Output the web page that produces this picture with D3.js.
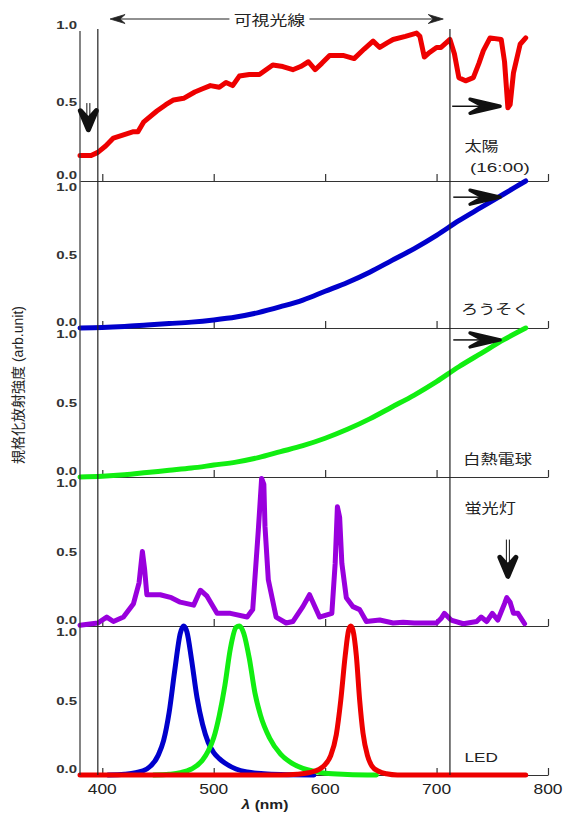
<!DOCTYPE html>
<html>
<head>
<meta charset="utf-8">
<script src="https://cdn.jsdelivr.net/npm/d3@7"></script>
<style>
	body { margin: 0; background: #fff; }
	svg { display: block; }
	text { font-family: 'Liberation Sans', 'Noto Sans CJK JP', sans-serif; fill: #222; }
	.jp { font-family: 'Noto Sans CJK JP', sans-serif; }
</style>
</head>
<body>
<svg id="chart" width="563" height="814"></svg>
<script>
'use strict';

// [wavelength nm, normalised intensity]
const sun = [[380,0.16],[390,0.16],[396,0.18],[403,0.22],[410,0.27],[419,0.29],[428,0.31],[432,0.31],[437,0.37],
	[449,0.44],[457,0.48],[464,0.51],[473,0.52],[483,0.56],[490,0.58],[497,0.60],[505,0.59],[511,0.62],[517,0.60],
	[523,0.66],[532,0.67],[541,0.67],[553,0.73],[562,0.72],[571,0.70],[578,0.72],[585,0.75],[591,0.70],[597,0.74],
	[604,0.79],[616,0.79],[626,0.77],[635,0.83],[643,0.88],[649,0.84],[656,0.87],[661,0.89],[672,0.91],[682,0.93],
	[685,0.91],[689,0.78],[694,0.81],[700,0.84],[704,0.84],[712,0.89],[716,0.80],[720,0.65],[726,0.63],[733,0.65],
	[738,0.74],[742,0.82],[748,0.90],[758,0.89],[761,0.75],[764,0.46],[766,0.48],[769,0.68],[775,0.86],[780,0.90]];
const candle = [[380,0],[400,0.003],[420,0.01],[440,0.02],[460,0.03],[480,0.04],[500,0.055],[520,0.075],[540,0.105],
	[560,0.145],[580,0.19],[600,0.25],[620,0.31],[640,0.38],[660,0.46],[680,0.54],[700,0.63],[720,0.73],[740,0.82],
	[760,0.91],[780,1.0]];
const bulb = [[380,0],[400,0.005],[420,0.015],[440,0.03],[460,0.045],[480,0.06],[500,0.08],[520,0.10],[540,0.13],
	[560,0.17],[580,0.21],[600,0.26],[620,0.32],[640,0.39],[660,0.47],[680,0.55],[700,0.64],[720,0.74],[740,0.83],
	[760,0.92],[780,1.0]];
const fluorescent = [[380,0.005],[396,0.02],[404,0.06],[410,0.03],[419,0.06],[428,0.15],[433,0.29],[436,0.50],[438,0.38],
	[440,0.21],[452,0.21],[462,0.19],[470,0.16],[482,0.14],[488,0.24],[494,0.20],[503,0.085],[515,0.085],[530,0.06],
	[535,0.11],[540,0.64],[543,0.99],[545,0.95],[546,0.67],[549,0.31],[556,0.06],[565,0.02],[571,0.03],[580,0.13],
	[586,0.21],[595,0.06],[606,0.085],[609,0.42],[611,0.80],[613,0.73],[615,0.42],[619,0.19],[625,0.13],[631,0.11],
	[637,0.03],[649,0.04],[661,0.02],[670,0.025],[680,0.02],[700,0.02],[704,0.05],[707,0.085],[713,0.04],[724,0.015],
	[736,0.03],[740,0.06],[745,0.03],[750,0.085],[755,0.04],[761,0.15],[763,0.19],[766,0.16],[769,0.085],[773,0.085],
	[779,0.015]];
const ledBlue = [[405,0],[420,0.005],[430,0.015],[440,0.04],[450,0.13],[455,0.23],[460,0.42],[465,0.7],[470,0.95],
	[473,1.0],[476,0.96],[480,0.78],[485,0.52],[490,0.34],[495,0.22],[500,0.15],[505,0.11],[510,0.08],[520,0.04],
	[530,0.02],[545,0.008],[560,0.003],[590,0]];
const ledGreen = [[446,0],[460,0.005],[470,0.015],[480,0.04],[490,0.1],[495,0.16],[500,0.25],[505,0.4],[510,0.6],
	[515,0.85],[520,0.99],[523,1.0],[527,0.95],[532,0.78],[537,0.55],[542,0.4],[550,0.25],[560,0.14],[570,0.08],
	[580,0.045],[590,0.025],[600,0.012],[620,0.004],[646,0]];
const ledRed = [[380,0],[560,0],[575,0.005],[585,0.015],[595,0.04],[600,0.07],[605,0.13],[610,0.27],[614,0.5],
	[618,0.8],[621,0.97],[623,1.0],[625,0.97],[628,0.8],[631,0.5],[634,0.28],[638,0.13],[642,0.06],[648,0.025],
	[655,0.008],[665,0],[780,0]];

const xTicks = [400, 500, 600, 700, 800];
const yTicks = [0, 0.5, 1];
const visibleEdges = [396, 712];
const visibleRange = [407, 706];
const panelLabels = [
	[['太陽', 725, 0.23], ['(16:00)', 730, 0.09]],
	[['ろうそく', 722, 0.14]],
	[['白熱電球', 724, 0.13]],
	[['蛍光灯', 725, 0.80]],
	[['LED', 725, 0.12]]
];
const rightArrows = [[0, 714, 757, 0.47], [1, 715, 757, 0.89], [2, 715, 757, 0.92]];
const downArrows = [[0, 387.5, 0.49, 0.31], [3, 764, 0.58, 0.32]];

const panels = [
	{ top: 22, bottom: 181, series: [[sun, '#ee0000']], smooth: false },
	{ top: 181, bottom: 328, series: [[candle, '#0000cc']], smooth: true },
	{ top: 328, bottom: 477, series: [[bulb, '#11ee11']], smooth: true },
	{ top: 477, bottom: 626, series: [[fluorescent, '#9900dd']], smooth: false },
	{ top: 626, bottom: 775, series: [[ledBlue, '#0000cc'], [ledGreen, '#11ee11'], [ledRed, '#ee0000']], smooth: true }
];

const svg = d3.select('#chart'),
	x = d3.scaleLinear().domain([380, 800]).range([80, 548]),
	ink = '#222';

const label = (sel, px, py, str, size, sx, anchor) => sel.append('text')
	.attr('transform', `translate(${px},${py}) scale(${sx},1)`)
	.attr('font-size', size)
	.attr('text-anchor', anchor || 'start')
	.attr('dominant-baseline', 'central')
	.text(str);

panels.forEach((p, i) => {
	p.y = d3.scaleLinear().domain([0, 1]).range([p.bottom, p.top]);
	let g = svg.append('g');

	g.append('g')
		.attr('transform', `translate(0,${p.bottom})`)
		.call(d3.axisBottom(x).tickValues(xTicks).tickSize(-7).tickSizeOuter(0).tickFormat(''))
		.call(a => a.selectAll('path,line').attr('stroke', '#333').attr('stroke-width', 1.2));

	yTicks.forEach(v => {
		let off = v === 1 ? (i === 0 ? 3 : 6) : v === 0 ? -6 : 1;
		label(g, 77, p.y(v) + off, d3.format('.1f')(v), 10, 1.5, 'end')
			.attr('font-weight', 'bold').style('fill', '#333');
	});

	let line = d3.line()
		.x(d => x(d[0]))
		.y(d => p.y(d[1]))
		.curve(p.smooth ? d3.curveMonotoneX : d3.curveLinear);

	p.series.forEach(s => {
		g.append('path')
			.datum(s[0])
			.attr('d', line)
			.attr('fill', 'none')
			.attr('stroke', s[1])
			.attr('stroke-width', 5)
			.attr('stroke-linejoin', 'round')
			.attr('stroke-linecap', 'round');
	});

	panelLabels[i].forEach(l => {
		label(g, x(l[1]), p.y(l[2]), l[0], 13.5, l[0] === '(16:00)' ? 1.4 : 1.27)
			.classed('jp', /[^\x00-\x7f]/.test(l[0]));
	});
});

// x tick labels + axis title on the bottom panel only
xTicks.forEach(t => label(svg, x(t), 789, t, 14.5, 1.2, 'middle'));
svg.append('text')
	.attr('transform', 'translate(265,804) scale(1.2,1)')
	.attr('text-anchor', 'middle')
	.attr('dominant-baseline', 'central')
	.attr('font-size', 13)
	.attr('font-weight', 'bold')
	.call(t => t.append('tspan').attr('font-style', 'italic').text('λ'))
	.call(t => t.append('tspan').text(' (nm)'));

svg.append('text')
	.attr('transform', 'translate(18,385) rotate(-90)')
	.attr('text-anchor', 'middle')
	.attr('dominant-baseline', 'central')
	.attr('font-size', 14)
	.text('規格化放射強度 (arb.unit)');

// frame: left axis and visible-range edges
svg.append('line')
	.attr('x1', x(380)).attr('x2', x(380))
	.attr('y1', 31).attr('y2', panels[4].bottom)
	.attr('stroke', '#333').attr('stroke-width', 1.2);
svg.selectAll('.edge').data(visibleEdges).enter().append('line')
	.attr('class', 'edge')
	.attr('x1', d => x(d)).attr('x2', d => x(d))
	.attr('y1', 29).attr('y2', panels[4].bottom)
	.attr('stroke', ink).attr('stroke-width', 1.2);

// 可視光線 double arrow
let vy = 19, vx1 = x(visibleRange[0]), vx2 = x(visibleRange[1]);
svg.append('line').attr('x1', vx1 + 8).attr('x2', vx2 - 8).attr('y1', vy).attr('y2', vy)
	.attr('stroke', ink).attr('stroke-width', 1.2);
svg.append('path')
	.attr('d', `M${vx1},${vy}L${vx1 + 15},${vy - 4.5}L${vx1 + 10},${vy}L${vx1 + 15},${vy + 4.5}Z` +
		`M${vx2},${vy}L${vx2 - 15},${vy - 4.5}L${vx2 - 10},${vy}L${vx2 - 15},${vy + 4.5}Z`)
	.attr('fill', ink).attr('stroke', ink).attr('stroke-width', 0.8);
svg.append('rect').attr('x', x(550) - 40).attr('y', vy - 10).attr('width', 80).attr('height', 20).attr('fill', '#fff');
label(svg, x(550), vy, '可視光線', 14, 1.28, 'middle').classed('jp', true);

// black arrows pointing at features
rightArrows.forEach(a => {
	let py = panels[a[0]].y(a[3]), x1 = x(a[1]), x2 = x(a[2]);
	svg.append('line').attr('x1', x1).attr('x2', x2 - 20).attr('y1', py).attr('y2', py)
		.attr('stroke', '#111').attr('stroke-width', 1.5);
	svg.append('path')
		.attr('d', `M${x2},${py}L${x2 - 30},${py - 7}L${x2 - 17},${py}L${x2 - 30},${py + 7}Z`)
		.attr('fill', '#111').attr('stroke', '#111').attr('stroke-width', 3.5).attr('stroke-linejoin', 'round');
});
downArrows.forEach(a => {
	let p = panels[a[0]], px = x(a[1]), y1 = p.y(a[2]), y2 = p.y(a[3]);
	[-1.5, 1.5].forEach(dx => svg.append('line')
		.attr('x1', px + dx).attr('x2', px + dx).attr('y1', y1).attr('y2', y2 - 14)
		.attr('stroke', '#111').attr('stroke-width', 1));
	svg.append('path')
		.attr('d', `M${px},${y2 - 2}L${px - 8},${y2 - 21}L${px},${y2 - 12}L${px + 8},${y2 - 21}Z`)
		.attr('fill', '#111').attr('stroke', '#111').attr('stroke-width', 5).attr('stroke-linejoin', 'round');
});
</script>
</body>
</html>
